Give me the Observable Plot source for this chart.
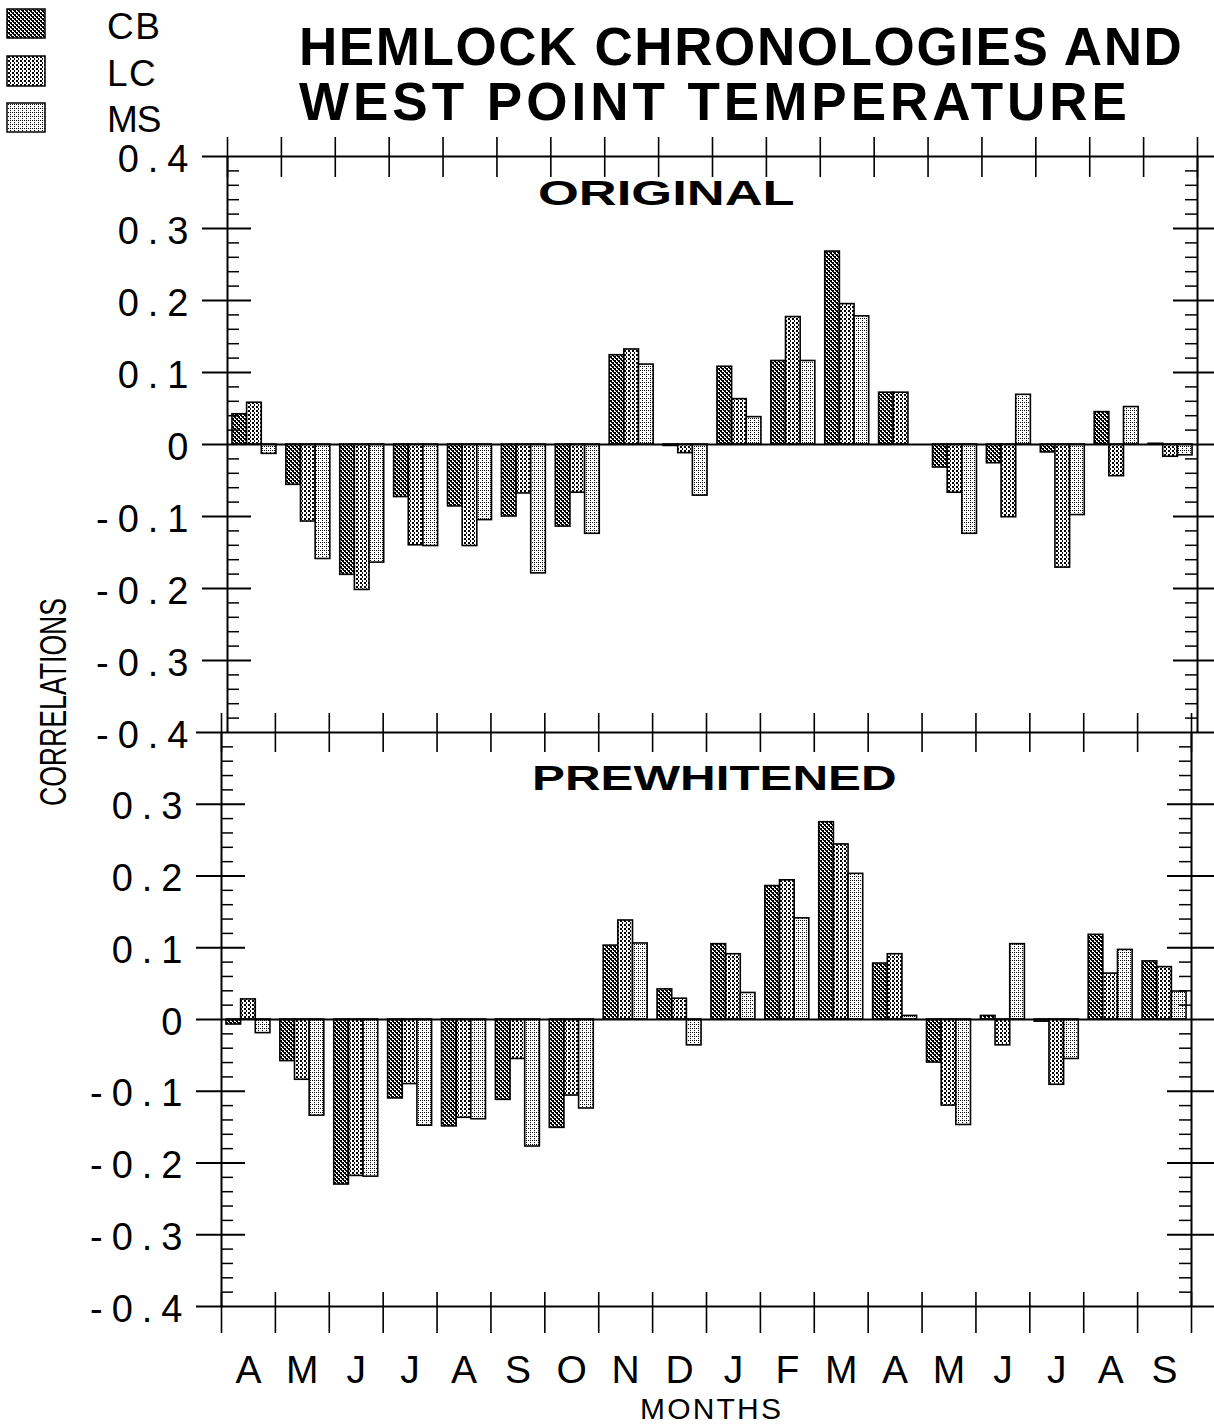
<!DOCTYPE html>
<html><head><meta charset="utf-8">
<script src="https://cdn.jsdelivr.net/npm/d3@7"></script>
<script src="https://cdn.jsdelivr.net/npm/@observablehq/plot@0.6"></script>
<style>
html,body{margin:0;padding:0;background:#fff;}
body{width:1214px;height:1424px;position:relative;overflow:hidden;font-family:'Liberation Sans',Arial,Helvetica,sans-serif;color:#000;}
.abs{position:absolute;white-space:nowrap;line-height:1;}
.plotbox{position:absolute;left:0;}
.panel g[aria-label="y-axis tick label"] text{letter-spacing:9px;}
</style></head><body>
<svg width="0" height="0" style="position:absolute">
<defs>
<pattern id="pCB" width="4" height="4" patternUnits="userSpaceOnUse">
<rect width="4" height="4" fill="#fff"/><path d="M0 0h2v2h-2zM2 2h2v2h-2zM1 2h1v1h-1zM3 0h1v1h-1z" fill="#000"/></pattern>
<pattern id="pLC" width="4" height="4" patternUnits="userSpaceOnUse">
<rect width="4" height="4" fill="#fff"/><path d="M0 0h2v2h-2zM2 2h1v2h-1z" fill="#000"/></pattern>
<pattern id="pMS" width="4" height="4" patternUnits="userSpaceOnUse">
<rect width="4" height="4" fill="#fff"/><path d="M0 0h1v1h-1zM2 2h1v1h-1zM2 0h1v1h-1z" fill="#000"/></pattern>
</defs></svg>

<svg class="abs" style="left:0;top:0" width="50" height="140">
<rect x="7" y="9" width="38" height="29" fill="url(#pCB)" stroke="#000" stroke-width="1.5"/>
<rect x="7" y="56" width="38" height="30" fill="url(#pLC)" stroke="#000" stroke-width="1.5"/>
<rect x="7" y="103" width="38" height="29" fill="url(#pMS)" stroke="#000" stroke-width="1.5"/>
</svg>
<div class="abs" style="left:107px;top:8px;font-size:37px;letter-spacing:1.5px">CB</div>
<div class="abs" style="left:107px;top:55px;font-size:37px;letter-spacing:1.5px">LC</div>
<div class="abs" style="left:107px;top:101px;font-size:37px;letter-spacing:-1px">MS</div>

<div class="abs" style="left:299px;top:20px;font-size:53px;font-weight:bold;letter-spacing:1.6px">HEMLOCK CHRONOLOGIES AND</div>
<div class="abs" style="left:299px;top:75px;font-size:53px;font-weight:bold;letter-spacing:4px">WEST POINT TEMPERATURE</div>

<div id="top" class="plotbox" style="top:130px"></div>
<div id="bot" class="plotbox" style="top:700px"></div>

<div class="abs" style="left:538px;top:175px;font-size:35px;font-weight:bold;transform:scaleX(1.5);transform-origin:0 0">ORIGINAL</div>
<div class="abs" style="left:532px;top:760px;font-size:35px;font-weight:bold;transform:scaleX(1.41);transform-origin:0 0">PREWHITENED</div>

<div class="abs" style="left:53.5px;top:702px;font-size:36px;transform:translate(-50%,-50%) rotate(-90deg) scaleX(0.74)">CORRELATIONS</div>
<div class="abs" style="left:640px;top:1394px;font-size:30px;letter-spacing:2.2px">MONTHS</div>

<script>
const months = ["A","M","J","J","A","S","O","N","D","J","F","M","A","M","J","J","A","S"];
const series = ["CB","LC","MS"];
const seriesFill = ["url(#pCB)","url(#pLC)","url(#pMS)"];

// ORIGINAL panel
const origCB = [0.042,-0.056,-0.181,-0.073,-0.086,-0.100,-0.114,0.124,-0.002,0.108,0.116,0.268,0.072,-0.032,-0.026,-0.011,0.045,0.001];
const origLC = [0.058,-0.107,-0.202,-0.140,-0.141,-0.068,-0.067,0.132,-0.012,0.063,0.177,0.195,0.072,-0.067,-0.101,-0.171,-0.044,-0.017];
const origMS = [-0.013,-0.159,-0.164,-0.141,-0.105,-0.179,-0.124,0.111,-0.071,0.038,0.116,0.178,0.000,-0.124,0.069,-0.098,0.052,-0.015];

// PREWHITENED panel
const preCB = [-0.007,-0.058,-0.230,-0.110,-0.149,-0.112,-0.151,0.103,0.042,0.105,0.186,0.275,0.078,-0.060,0.005,-0.003,0.118,0.081];
const preLC = [0.028,-0.084,-0.218,-0.090,-0.137,-0.055,-0.106,0.138,0.029,0.091,0.194,0.244,0.091,-0.120,-0.036,-0.091,0.064,0.073];
const preMS = [-0.019,-0.134,-0.219,-0.148,-0.139,-0.177,-0.124,0.106,-0.036,0.037,0.141,0.203,0.005,-0.147,0.105,-0.055,0.097,0.039];

const yTickValues = [0.4,0.3,0.2,0.1,0,-0.1,-0.2,-0.3,-0.4];

function table(cb, lc, ms) {
  return [cb, lc, ms].flatMap((vals, s) => vals.map((v, m) => ({m, s, series: series[s], value: v})));
}
const origData = table(origCB, origLC, origMS);
const preData = table(preCB, preLC, preMS);

const GROUP_OFF = 0.092, BAR_W = 0.272;
const bounds = d3.range(months.length + 1);
const centers = months.map((_, i) => i + 0.5);
const majors = yTickValues.filter(v => Math.abs(v) > 1e-9 && Math.abs(Math.abs(v) - 0.4) > 1e-9);
const minors = d3.range(-20, 21).filter(k => k % 5 !== 0).map(k => k * 0.02);
const fmt = d => Math.abs(d) < 1e-9 ? "0" : d.toFixed(1);

function panel({data, marginTop, marginBottom, marginLeft, marginRight, frameH, labels, fullLines, boundTicks, monthAxis}) {
  const W = 1214 - marginLeft - marginRight;
  const marks = [
    Plot.rectY(data, {
      x1: d => d.m + GROUP_OFF + d.s * BAR_W,
      x2: d => d.m + GROUP_OFF + (d.s + 1) * BAR_W,
      y: "value", fill: "series", stroke: "#000", strokeWidth: 1.6
    }),
    Plot.ruleY(fullLines, {insetLeft: -25, insetRight: -marginRight, stroke: "#000", strokeWidth: 2}),
    Plot.ruleX([0, months.length], {stroke: "#000", strokeWidth: 2}),
    Plot.tickY(majors, {insetLeft: -25, insetRight: W - 24, stroke: "#000", strokeWidth: 2}),
    Plot.tickY(majors, {insetLeft: W - 24, insetRight: -marginRight, stroke: "#000", strokeWidth: 2}),
    Plot.tickY(minors, {insetRight: W - 12, stroke: "#000", strokeWidth: 1.5}),
    Plot.tickY(minors, {insetLeft: W - 12, stroke: "#000", strokeWidth: 1.5}),
    ...boundTicks.map(([a, b]) => Plot.tickX(bounds, {insetTop: a, insetBottom: b, stroke: "#000", strokeWidth: 1.6})),
    Plot.axisY(labels, {tickSize: 0, tickPadding: 30, fontSize: 38, tickFormat: fmt, dy: 3, label: null})
  ];
  if (monthAxis) marks.push(Plot.axisX(centers, {tickSize: 0, tickPadding: 49, fontSize: 39, tickFormat: d => months[Math.floor(d)], label: null}));
  return Plot.plot({
    width: 1214, height: marginTop + frameH + marginBottom,
    marginTop, marginBottom, marginLeft, marginRight,
    className: "panel",
    style: {background: "transparent", overflow: "visible", color: "#000", fontFamily: "'Liberation Sans', Arial, Helvetica, sans-serif"},
    x: {domain: [0, months.length], axis: null, label: null},
    y: {domain: [-0.4, 0.4], axis: null, label: null},
    color: {type: "ordinal", domain: series, range: seriesFill},
    marks
  });
}

const topH = 576, botH = 574;
document.getElementById("top").append(panel({
  data: origData, marginTop: 26, marginBottom: 28, marginLeft: 227, marginRight: 17, frameH: topH,
  labels: yTickValues, fullLines: [0.4, 0],
  boundTicks: [[-19, topH - 21]], monthAxis: false
}));
document.getElementById("bot").append(panel({
  data: preData, marginTop: 32, marginBottom: 118, marginLeft: 221, marginRight: 23, frameH: botH,
  labels: yTickValues.slice(1), fullLines: [0.4, 0, -0.4],
  boundTicks: [[-19, botH - 20], [botH - 14, -27]], monthAxis: true
}));
</script>
</body></html>
